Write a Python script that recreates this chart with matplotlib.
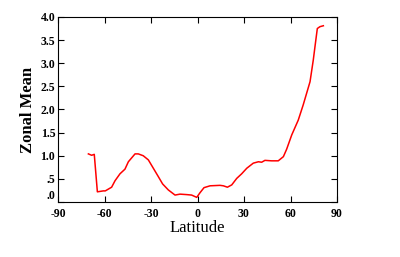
import matplotlib
matplotlib.use('Agg')
import matplotlib.pyplot as plt

# zonal mean curve
lat = [-70.4, -68.3, -66.6, -64.6, -60.8, -59.5, -55.4, -53.2, -50.0, -46.8,
       -44.6, -40.3, -38.2, -35.0, -31.7, -28.5, -25.3, -22.5, -18.8, -14.5,
       -11.3, -7.0, -3.8, -0.5, 1.6, 4.2, 8.1, 14.5, 16.7, 19.3,
       22.1, 25.3, 28.5, 31.8, 36.0, 39.3, 41.4, 43.5, 47.8, 52.1,
       55.4, 57.5, 60.8, 65.0, 68.2, 72.6, 74.7, 75.8, 77.3, 79.0, 81.2]
zmean = [1.04, 1.01, 1.03, 0.22, 0.24, 0.24, 0.32, 0.46, 0.61, 0.71,
         0.87, 1.04, 1.04, 1.00, 0.91, 0.73, 0.55, 0.39, 0.26, 0.15,
         0.17, 0.16, 0.15, 0.10, 0.20, 0.31, 0.35, 0.36, 0.35, 0.32,
         0.37, 0.51, 0.61, 0.73, 0.84, 0.87, 0.86, 0.90, 0.89, 0.89,
         0.98, 1.14, 1.45, 1.77, 2.10, 2.60, 3.07, 3.36, 3.75, 3.79, 3.81]

xticks = [-90, -60, -30, 0, 30, 60, 90]
yticks = [0, 0.5, 1.0, 1.5, 2.0, 2.5, 3.0, 3.5, 4.0]
ylabels = ['.0', '.5', '1.0', '1.5', '2.0', '2.5', '3.0', '3.5', '4.0']

plt.rcParams['font.family'] = ['Liberation Serif', 'DejaVu Serif']

fig = plt.figure(figsize=(4, 2.57), dpi=100)
ax = fig.add_axes([0.145, 0.214, 0.6975, 0.72])
ax.plot(lat, zmean, color='red', lw=1.1)

ax.set_xlim(-90, 90)
ax.set_ylim(0, 4)
ax.set_xticks(xticks)
ax.set_xticklabels([str(t) for t in xticks], fontweight='bold', fontsize=8.5)
ax.set_yticks(yticks)
ax.set_yticklabels(ylabels, fontweight='bold', fontsize=8.5)
ax.tick_params(direction='in', length=4, width=0.8, top=True, right=True)
ax.tick_params(axis='x', pad=4)
ax.tick_params(axis='y', pad=2)
# keep the ".0" label clear of "-90" below it
ax.get_yticklabels()[0].set_verticalalignment('bottom')
for s in ax.spines.values():
    s.set_linewidth(0.8)

ax.set_xlabel('Latitude', fontsize=12, labelpad=0)
ax.set_ylabel('Zonal Mean', fontsize=12, fontweight='bold', labelpad=3)

fig.savefig('out.png', dpi=100)
